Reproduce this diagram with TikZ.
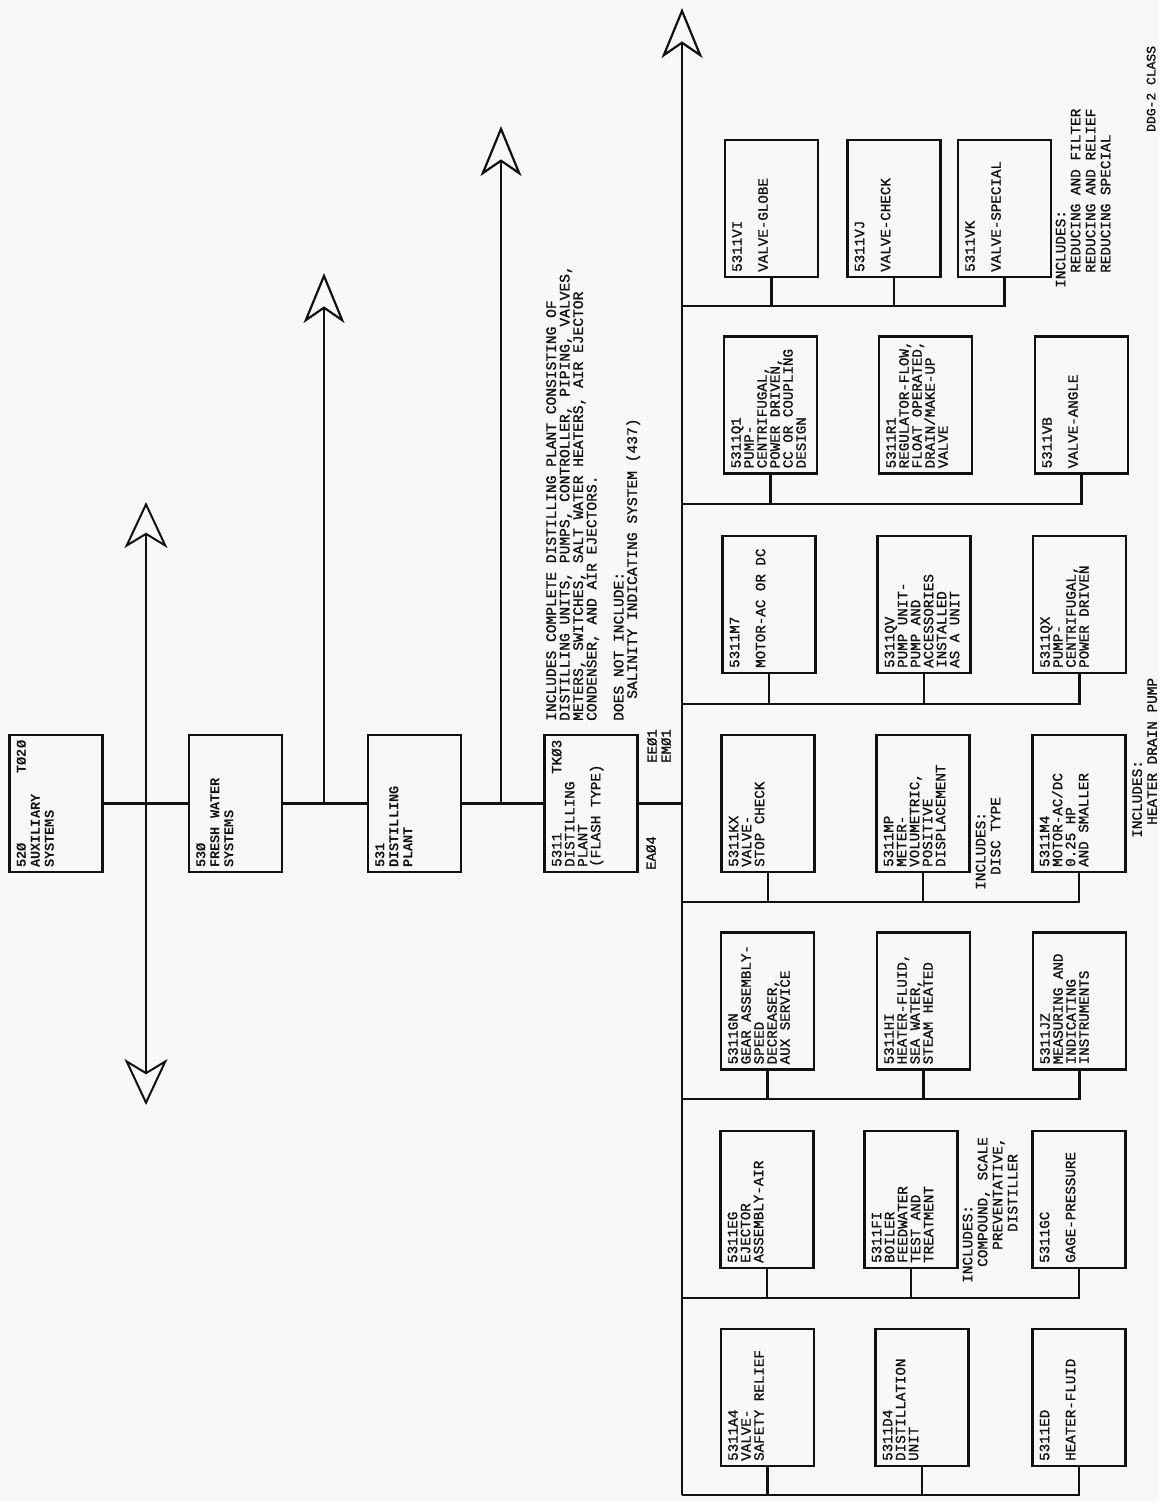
\documentclass[tikz,border=0pt]{standalone}
\usepackage{fontspec}
\newfontfamily\tw{Liberation Mono}[FakeBold=1.2]
\newfontfamily\twb{Liberation Mono Bold}
\usetikzlibrary{arrows.meta}
\definecolor{paper}{RGB}{248,248,248}
\definecolor{ink}{RGB}{17,17,17}
\newcommand\boxfont{\tw\fontsize{14.2pt}{13pt}\selectfont\frenchspacing}
\newcommand\topfont{\twb\fontsize{13.6pt}{14pt}\selectfont\frenchspacing}
\newcommand\notefont{\tw\fontsize{14.4pt}{15pt}\selectfont\frenchspacing}
\tikzset{
  box/.style={draw=ink, line width=2.5pt, minimum width=93pt, minimum height=137pt, inner sep=0pt, outer sep=0pt},
  boxtxt/.style={rotate=90, anchor=north west, inner sep=0pt, align=left, font=\boxfont, text=ink},
  note/.style={rotate=90, anchor=north west, inner sep=0pt, align=left, font=\notefont, text=ink},
  conn/.style={draw=ink, line width=2.2pt},
  shaft/.style={draw=ink, line width=1.6pt},
  upar/.style={-{Stealth[open, length=50pt, width=41pt, inset=14pt, line width=2.2pt]}},
  dblar/.style={{Stealth[open, length=46pt, width=43pt, inset=13pt, line width=2pt]}-{Stealth[open, length=46pt, width=43pt, inset=13pt, line width=2pt]}},
}
% #1 extra text options, #2 name, #3 centre, #4 text
\newcommand\bx[4][]{%
  \node[box] (#2) at (#3) {};
  \node[boxtxt,#1] (#2t) at ([xshift=7pt,yshift=5pt]#2.south west) {#4};%
}
\begin{document}
\begin{tikzpicture}[x=1pt,y=1pt]
\useasboundingbox (0,0) rectangle (1159,-1501);
\fill[paper] (0,0) rectangle (1159,-1501);

% ---------- top level chain ----------
\bx[font=\topfont,xshift=-1pt]{b520}{56,-803.5}{\makebox[127pt][l]{52Ø\hfill TØ2Ø}\\AUXILIARY\\SYSTEMS}
\bx[font=\topfont,xshift=-1pt]{b530}{235.5,-803.5}{53Ø\\FRESH WATER\\SYSTEMS}
\bx[font=\topfont,xshift=-1pt]{b531}{414.5,-803.5}{531\\DISTILLING\\PLANT}
\bx{b5311}{591,-803.5}{\makebox[127pt][l]{5311\hfill TKØ3}\\DISTILLING\\PLANT\\(FLASH TYPE)}

\coordinate (sTop) at (682,-8);
\coordinate (sBot) at (682,-1495);
\coordinate (dUp) at (146,-502);
\coordinate (dDn) at (146,-1105);
\coordinate (a1) at (324,-273);
\coordinate (a2) at (501,-126);

\draw[conn] (b520.east) -- (b530.west);
\draw[conn] (b530.east) -- (b531.west);
\draw[conn] (b531.east) -- (b5311.west);
\draw[conn] (b5311.east) -- (b5311.east -| sTop);
\draw[shaft, dblar] (dDn) -- (dUp);
\draw[shaft, upar] (a1 |- b530.east) -- (a1);
\draw[shaft, upar] (a2 |- b531.east) -- (a2);
\draw[conn, upar] (sBot) -- (sTop);

% ---------- notes near 5311 ----------
\node[note, font=\tw\fontsize{14.6pt}{13.5pt}\selectfont\frenchspacing] (nInc) at (546,-721) {INCLUDES COMPLETE DISTILLING PLANT CONSISTING OF\\
DISTILLING UNITS, PUMPS, CONTROLLER, PIPING, VALVES,\\
METERS, SWITCHES, SALT WATER HEATERS, AIR EJECTOR\\
CONDENSER, AND AIR EJECTORS.\\[13.5pt]
DOES NOT INCLUDE:\\
\hspace*{22pt}SALINITY INDICATING SYSTEM (437)};
\node[note, font=\tw\fontsize{14pt}{14pt}\selectfont] (nEE) at (647,-763) {EEØ1\\EMØ1};
\node[note, font=\tw\fontsize{14pt}{14pt}\selectfont] (nEA) at (646,-870) {EAØ4};

% ---------- row 1 ----------
\bx{vi}{771.5,-208.5}{5311VI\\[13pt]VALVE-GLOBE}
\bx{vj}{894,-208.5}{5311VJ\\[13pt]VALVE-CHECK}
\bx{vk}{1004.5,-208.5}{5311VK\\[13pt]VALVE-SPECIAL}
% ---------- row 2 ----------
\bx{q1}{770.5,-405}{5311Q1\\PUMP-\\CENTRIFUGAL,\\POWER DRIVEN,\\CC OR COUPLING\\DESIGN}
\bx{r1}{925.5,-405}{5311R1\\REGULATOR-FLOW,\\FLOAT OPERATED,\\DRAIN/MAKE-UP\\VALVE}
\bx{vb}{1081.5,-405}{5311VB\\[13pt]VALVE-ANGLE}
% ---------- row 3 ----------
\bx{m7}{769,-604.5}{5311M7\\[13pt]MOTOR-AC OR DC}
\bx{qv}{924,-604.5}{5311QV\\PUMP UNIT-\\PUMP AND\\ACCESSORIES\\INSTALLED\\AS A UNIT}
\bx{qx}{1079.5,-604.5}{5311QX\\PUMP-\\CENTRIFUGAL,\\POWER DRIVEN}
% ---------- row 4 ----------
\bx{kx}{768,-803.5}{5311KX\\VALVE-\\STOP CHECK}
\bx{mp}{923,-803.5}{5311MP\\METER-\\VOLUMETRIC,\\POSITIVE\\DISPLACEMENT}
\bx{m4}{1079,-803.5}{5311M4\\MOTOR-AC/DC\\0.25 HP\\AND SMALLER}
% ---------- row 5 ----------
\bx{gn}{767.5,-1001}{5311GN\\GEAR ASSEMBLY-\\SPEED\\DECREASER,\\AUX SERVICE}
\bx{hi}{923.5,-1001}{5311HI\\HEATER-FLUID,\\SEA WATER,\\STEAM HEATED}
\bx{jz}{1079.5,-1001}{5311JZ\\MEASURING AND\\INDICATING\\INSTRUMENTS}
% ---------- row 6 ----------
\bx{eg}{767,-1199.5}{5311EG\\EJECTOR\\ASSEMBLY-AIR}
\bx{fi}{911,-1199.5}{5311FI\\BOILER\\FEEDWATER\\TEST AND\\TREATMENT}
\bx{gc}{1079,-1199.5}{5311GC\\[13pt]GAGE-PRESSURE}
% ---------- row 7 ----------
\bx{a4}{767.5,-1397.5}{5311A4\\VALVE-\\SAFETY RELIEF}
\bx{d4}{922,-1397.5}{5311D4\\DISTILLATION\\UNIT}
\bx{ed}{1079,-1397.5}{5311ED\\[13pt]HEATER-FLUID}

% ---------- buses ----------
\coordinate (r1) at (682,-306);
\coordinate (r2) at (682,-504);
\coordinate (r3) at (682,-704);
\coordinate (r4) at (682,-902);
\coordinate (r5) at (682,-1099);
\coordinate (r6) at (682,-1298);
\draw[conn] (r1) -| (vk.south);
\draw[conn] (vi.south) -- (vi.south |- r1);
\draw[conn] (vj.south) -- (vj.south |- r1);
\draw[conn] (r2) -| (vb.south);
\draw[conn] (q1.south) -- (q1.south |- r2);
\draw[conn] (r1.south) -- (r1.south |- r2);
\draw[conn] (r3) -| (qx.south);
\draw[conn] (m7.south) -- (m7.south |- r3);
\draw[conn] (qv.south) -- (qv.south |- r3);
\draw[conn] (r4) -| (m4.south);
\draw[conn] (kx.south) -- (kx.south |- r4);
\draw[conn] (mp.south) -- (mp.south |- r4);
\draw[conn] (r5) -| (jz.south);
\draw[conn] (gn.south) -- (gn.south |- r5);
\draw[conn] (hi.south) -- (hi.south |- r5);
\draw[conn] (r6) -| (gc.south);
\draw[conn] (eg.south) -- (eg.south |- r6);
\draw[conn] (fi.south) -- (fi.south |- r6);
\draw[conn] (sBot) -| (ed.south);
\draw[conn] (a4.south) -- (a4.south |- sBot);
\draw[conn] (d4.south) -- (d4.south |- sBot);

% ---------- notes ----------
\node[note] (nVK) at (1055.5,-288) {INCLUDES:\\\hspace*{15pt}REDUCING AND FILTER\\\hspace*{15pt}REDUCING AND RELIEF\\\hspace*{15pt}REDUCING SPECIAL};
\node[note] (nQX) at (1132,-838) {INCLUDES:\\\hspace*{13pt}HEATER DRAIN PUMP};
\node[note] (nMP) at (975.5,-890) {INCLUDES:\\\hspace*{15pt}DISC TYPE};
\node[note] (nFI) at (962.5,-1283) {INCLUDES:\\\hspace*{16pt}COMPOUND, SCALE\\\hspace*{33pt}PREVENTATIVE,\\\hspace*{51pt}DISTILLER};
\node[note, font=\tw\fontsize{13pt}{13pt}\selectfont] (nDDG) at (1146.5,-132) {DDG-2 CLASS};
\end{tikzpicture}
\end{document}
